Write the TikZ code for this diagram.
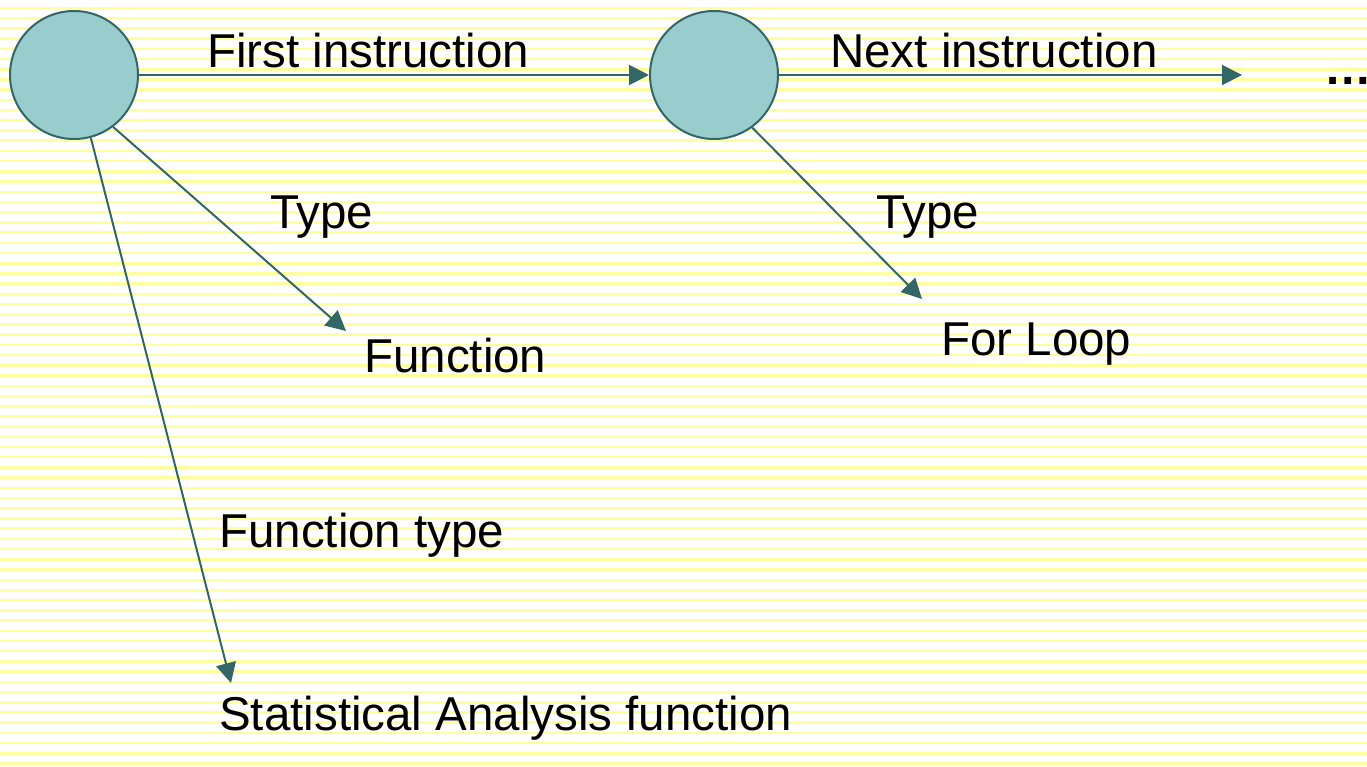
\documentclass[tikz,border=0pt]{standalone}
\usepackage{fontspec}
\setmainfont{Liberation Sans}
\usetikzlibrary{arrows.meta}
\definecolor{stripe}{RGB}{255,255,160}
\definecolor{nodefill}{RGB}{153,204,204}
\definecolor{teal}{RGB}{51,102,102}
\tikzset{
  state/.style={circle, draw=teal, fill=nodefill, line width=2pt, minimum size=128pt, inner sep=0pt},
  link/.style={draw=teal, line width=2pt, -{Triangle[length=20pt,width=20pt]}},
  lbl/.style={anchor=base west, inner sep=0pt, font=\fontsize{47.5}{57}\selectfont}
}
\begin{document}
\begin{tikzpicture}[x=1pt, y=-1pt]
  % page with a ruled yellow background
  \useasboundingbox (0,0) rectangle (1367,766);
  \fill[white] (0,0) rectangle (1367,766);
  \foreach \k in {0,...,75} {
    \fill[stripe] (0,{8+10.21*\k-1.25}) rectangle (1367,{8+10.21*\k+1.25});
  }

  % states
  \node[state] (s1) at (74,75) {};
  \node[state] (s2) at (714,75) {};

  % arrow end points
  \coordinate (more) at (1242,75);
  \coordinate (fn) at (346,331);
  \coordinate (loop) at (922,299);
  \coordinate (stat) at (231,683);

  % connectors
  \draw[link] (s1) -- (s2);
  \draw[link] (s2) -- (more);
  \draw[link] (s1.-53) -- (fn);
  \draw[link] (s1.-75) -- (stat);
  \draw[link] (s2.-54) -- (loop);

  % labels
  \node[lbl] (t1) at (207,67) {First instruction};
  \node[lbl] (t2) at (830,67) {Next instruction};
  \node[lbl, font=\fontsize{47.5}{57}\selectfont\bfseries] (t3) at (1324,84) {…};
  \node[lbl] (t4) at (270,228) {Type};
  \node[lbl] (t5) at (364,372) {Function};
  \node[lbl] (t6) at (876,228) {Type};
  \node[lbl] (t7) at (941,355) {For Loop};
  \node[lbl] (t8) at (219,547) {Function type};
  \node[lbl] (t9) at (219,730) {Statistical Analysis function};
\end{tikzpicture}
\end{document}
